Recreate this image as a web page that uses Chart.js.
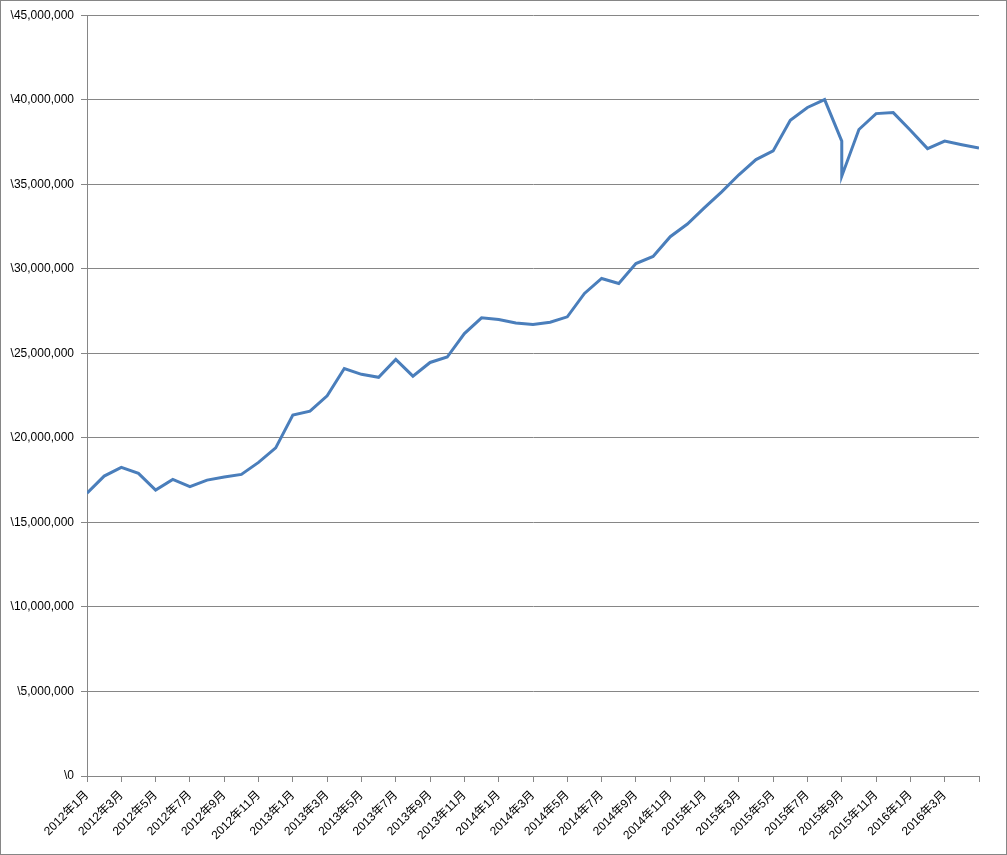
<!DOCTYPE html>
<html>
<head>
<meta charset="utf-8">
<script src="https://cdn.jsdelivr.net/npm/chart.js@4"></script>
<style>
  html, body { margin: 0; padding: 0; background: #fff; }
  .frame { width: 1007px; height: 855px; box-sizing: border-box; border: 1px solid #868686; }
  canvas { display: block; }
</style>
</head>
<body>
<div class="frame"><canvas id="myChart" width="1005" height="853"></canvas></div>
<script>
// 月次の評価額
const dates = [
  "2012年1月", "2012年2月", "2012年3月", "2012年4月", "2012年5月", "2012年6月",
  "2012年7月", "2012年8月", "2012年9月", "2012年10月", "2012年11月", "2012年12月",
  "2013年1月", "2013年2月", "2013年3月", "2013年4月", "2013年5月", "2013年6月",
  "2013年7月", "2013年8月", "2013年9月", "2013年10月", "2013年11月", "2013年12月",
  "2014年1月", "2014年2月", "2014年3月", "2014年4月", "2014年5月", "2014年6月",
  "2014年7月", "2014年8月", "2014年9月", "2014年10月", "2014年11月", "2014年12月",
  "2015年1月", "2015年2月", "2015年3月", "2015年4月", "2015年5月", "2015年6月",
  "2015年7月", "2015年8月", "2015年9月", "2015年9月", "2015年10月", "2015年11月",
  "2015年12月", "2016年1月", "2016年2月", "2016年3月", "2016年4月", "2016年5月"
];
const values = [
  16730000, 17740000, 18250000, 17900000, 16910000, 17540000,
  17110000, 17500000, 17680000, 17840000, 18550000, 19410000,
  21350000, 21580000, 22490000, 24100000, 23760000, 23580000,
  24640000, 23650000, 24460000, 24780000, 26170000, 27100000,
  27000000, 26790000, 26710000, 26840000, 27160000, 28540000,
  29430000, 29130000, 30310000, 30730000, 31900000, 32650000,
  33620000, 34550000, 35560000, 36460000, 36970000, 38790000,
  39540000, 40010000, 37550000, 35480000, 38240000, 39180000,
  39240000, 38200000, 37110000, 37550000, 37340000, 37150000
];
const months = [...new Set(dates)];
const yTicks = [0, 5000000, 10000000, 15000000, 20000000, 25000000, 30000000, 35000000, 40000000, 45000000];

const font = { family: "'Liberation Sans', Arial, 'Noto Sans CJK JP', sans-serif", size: 12 };

const config = {
  type: "line",
  data: {
    datasets: [{
      data: dates.map((d, i) => ({ x: months.indexOf(d), y: values[i] })),
      borderColor: "#4a7ebb",
      borderWidth: 3,
      pointRadius: 0,
      tension: 0,
      fill: false,
    }]
  },
  options: {
    responsive: false,
    animation: false,
    layout: { padding: { top: 14, right: 27, bottom: 0, left: 0 } },
    scales: {
      x: {
        type: "linear",
        min: 0,
        max: months.length - 1,
        grid: {
          drawOnChartArea: false,
          drawTicks: true,
          tickLength: 6,
          color: "#868686",
        },
        border: { color: "#868686" },
        ticks: {
          stepSize: 2,
          autoSkip: false,
          maxRotation: 45,
          minRotation: 45,
          color: "#000",
          font: font,
          padding: 6,
          // 最後の目盛(2016年5月)はラベルなし
          callback: (v) => v < months.length - 1 ? months[v] : "",
        },
        afterFit: (scale) => { scale.height = 78; },
      },
      y: {
        min: 0,
        max: 45000000,
        afterBuildTicks: (scale) => { scale.ticks = yTicks.map(v => ({ value: v })); },
        grid: {
          color: "#868686",
          tickLength: 6,
        },
        border: { color: "#868686" },
        ticks: {
          color: "#000",
          font: font,
          padding: 7,
          callback: (v) => "\\" + v.toLocaleString("en-US"),
        },
        afterFit: (scale) => { scale.width = 86; },
      },
    },
    plugins: {
      legend: { display: false },
      tooltip: { enabled: false },
    },
  },
};

var ctx = document.getElementById("myChart").getContext("2d");
var myChart = new Chart(ctx, config);
</script>
</body>
</html>
